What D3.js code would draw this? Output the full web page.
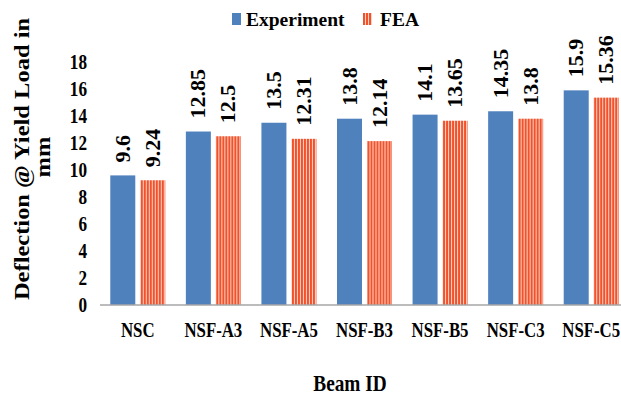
<!DOCTYPE html>
<html>
<head>
<meta charset="UTF-8">
<title>Deflection @ Yield Load</title>
<script src="https://cdn.jsdelivr.net/npm/d3@7"></script>
<style>
    body { margin: 0; background: #fff; }
</style>
</head>
<body>
<script>
    var beams = ["NSC", "NSF-A3", "NSF-A5", "NSF-B3", "NSF-B5", "NSF-C3", "NSF-C5"];
    var experiment = [9.6, 12.85, 13.5, 13.8, 14.1, 14.35, 15.9];
    var fea = [9.24, 12.5, 12.31, 12.14, 13.65, 13.8, 15.36];
    var yTicks = [0, 2, 4, 6, 8, 10, 12, 14, 16, 18];
    var seriesNames = ["Experiment", "FEA"];

    var width = 621, height = 396;
    var FONT = "'Liberation Serif', monospace";

    var svg = d3.select("body").append("svg")
        .attr("width", width)
        .attr("height", height);

    // stripe pattern for FEA bars
    var pat = svg.append("defs").append("pattern")
        .attr("id", "stripes")
        .attr("patternUnits", "userSpaceOnUse")
        .attr("width", 3).attr("height", 10);
    pat.append("rect").attr("width", 3).attr("height", 10).attr("fill", "#fcd3c8");
    pat.append("rect").attr("width", 2).attr("height", 10).attr("fill", "#f0522c");

    var x = d3.scaleBand().domain(beams).range([100, 629]);
    var y = d3.scaleLinear().domain([0, 18]).range([305, 62]);

    var barW = 25, gap = 5;

    function label(sel, size) {
        return sel.attr("font-family", FONT)
            .attr("font-weight", "bold")
            .attr("font-size", size)
            .attr("fill", "#000");
    }

    // y tick labels (the picture is a bit squeezed sideways)
    svg.selectAll(".ytick").data(yTicks).enter().append("text")
        .call(label, 20)
        .attr("transform", function(d) { return "translate(87," + (y(d) + 7) + ") scale(0.86,1)"; })
        .attr("text-anchor", "end")
        .text(function(d) { return d; });

    var g = svg.selectAll(".cat").data(beams).enter().append("g")
        .attr("transform", function(d) { return "translate(" + (x(d) + x.bandwidth() / 2) + ",0)"; });

    // experiment bars
    g.append("rect")
        .attr("x", -barW - gap / 2)
        .attr("width", barW)
        .attr("y", function(d, i) { return y(experiment[i]); })
        .attr("height", function(d, i) { return y(0) - y(experiment[i]); })
        .attr("fill", "#4f81bd");

    // fea bars
    g.append("rect")
        .attr("x", gap / 2)
        .attr("width", barW)
        .attr("y", function(d, i) { return y(fea[i]); })
        .attr("height", function(d, i) { return y(0) - y(fea[i]); })
        .attr("fill", "url(#stripes)");

    // value labels
    g.append("text")
        .call(label, 22)
        .attr("transform", function(d, i) {
            return "translate(" + (-barW / 2 - gap / 2 + 7) + "," + (y(experiment[i]) - 13) + ") rotate(-90)";
        })
        .text(function(d, i) { return experiment[i]; });
    g.append("text")
        .call(label, 22)
        .attr("transform", function(d, i) {
            return "translate(" + (barW / 2 + gap / 2 + 7) + "," + (y(fea[i]) - 13) + ") rotate(-90)";
        })
        .text(function(d, i) { return fea[i]; });

    // category labels
    g.append("text")
        .call(label, 21)
        .attr("transform", "translate(0,337) scale(0.8,1)")
        .attr("text-anchor", "middle")
        .text(function(d) { return d; });

    // x axis line
    svg.append("line")
        .attr("x1", 100).attr("x2", width)
        .attr("y1", y(0)).attr("y2", y(0))
        .attr("stroke", "#a6a6a6").attr("stroke-width", 1.5);

    // axis titles
    svg.append("text")
        .call(label, 23)
        .attr("transform", "translate(350,391) scale(0.84,1)")
        .attr("text-anchor", "middle")
        .text("Beam ID");
    svg.append("text")
        .call(label, 24.5)
        .attr("transform", "translate(29,159) scale(0.88,1) rotate(-90)")
        .attr("text-anchor", "middle")
        .text("Deflection @ Yield Load in");
    svg.append("text")
        .call(label, 24.5)
        .attr("transform", "translate(50,157) scale(0.88,1) rotate(-90)")
        .attr("text-anchor", "middle")
        .text("mm");

    // legend
    var legend = [{ x: 232, fill: "#4f81bd" }, { x: 363, fill: "url(#stripes)" }];
    svg.selectAll(".leg").data(seriesNames).enter().append("rect")
        .attr("x", function(d, i) { return legend[i].x; })
        .attr("y", 13).attr("width", 9).attr("height", 12)
        .attr("fill", function(d, i) { return legend[i].fill; });
    svg.selectAll(".legt").data(seriesNames).enter().append("text")
        .call(label, 19.5)
        .attr("x", function(d, i) { return legend[i].x + (i === 0 ? 14 : 17); })
        .attr("y", 26)
        .text(function(d) { return d; });
</script>
</body>
</html>
